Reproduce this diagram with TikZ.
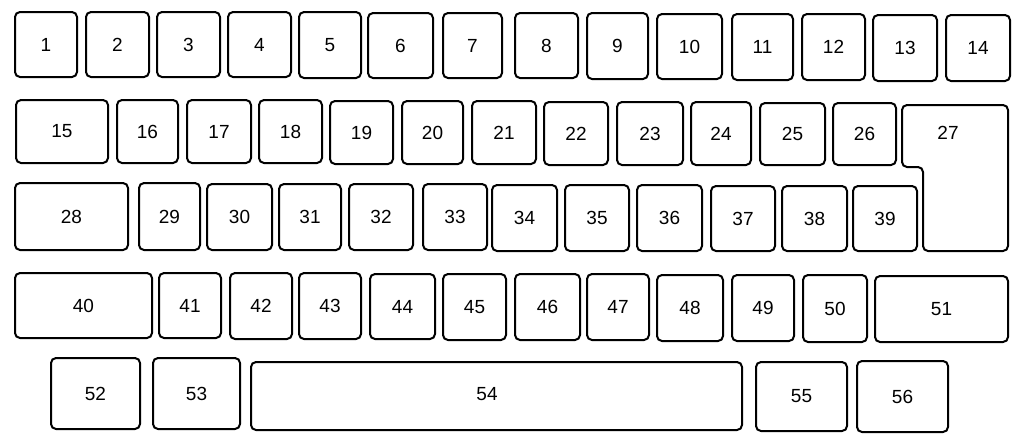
\documentclass[tikz,border=0pt]{standalone}
\usepackage{fontspec}
\setmainfont{Liberation Sans}
\tikzset{
  key/.style={draw=black, line width=2pt, rounded corners=5pt, inner sep=0pt, font=\fontsize{19}{19}\selectfont},
  keylabel/.style={inner sep=0pt, font=\fontsize{19}{19}\selectfont}
}
\newcommand\kb[5]{%
  \pgfmathsetmacro\kbw{#4-#2}\pgfmathsetmacro\kbh{#5-#3}%
  \node[key, minimum width=\kbw pt, minimum height=\kbh pt] (k#1) at ({(#2+#4)/2},{(#3+#5)/2}) {#1};}
\begin{document}
\begin{tikzpicture}[x=1pt,y=-1pt]
\useasboundingbox (0,0) rectangle (1024,445);
% row 1
\kb{1}{15}{12}{77}{77}
\kb{2}{86}{12}{149}{77}
\kb{3}{157}{12}{220}{77}
\kb{4}{228}{12}{291}{77}
\kb{5}{299}{12}{361}{78}
\kb{6}{368}{13}{433}{78}
\kb{7}{443}{13}{502}{78}
\kb{8}{515}{13}{578}{78}
\kb{9}{587}{13}{648}{79}
\kb{10}{657}{14}{722}{79}
\kb{11}{732}{14}{793}{80}
\kb{12}{802}{14}{865}{80}
\kb{13}{873}{15}{937}{81}
\kb{14}{946}{15}{1010}{81}
% row 2
\kb{15}{16}{100}{108}{163}
\kb{16}{117}{100}{178}{163}
\kb{17}{187}{100}{251}{163}
\kb{18}{259}{100}{322}{163}
\kb{19}{330}{101}{393}{164}
\kb{20}{402}{101}{463}{164}
\kb{21}{472}{101}{536}{164}
\kb{22}{544}{102}{608}{165}
\kb{23}{617}{102}{683}{165}
\kb{24}{691}{102}{751}{165}
\kb{25}{760}{103}{825}{165}
\kb{26}{833}{103}{896}{165}
% key 27 (L-shaped)
\draw[key] (902,105) -- (1008,105) -- (1008,251) -- (923,251) -- (923,167) -- (902,167) -- cycle;
\node[keylabel] (k27) at (948,133) {27};
% row 3
\kb{28}{15}{183}{128}{250}
\kb{29}{139}{183}{200}{250}
\kb{30}{207}{184}{272}{250}
\kb{31}{279}{184}{341}{250}
\kb{32}{349}{184}{413}{250}
\kb{33}{423}{184}{487}{250}
\kb{34}{492}{185}{557}{251}
\kb{35}{565}{185}{629}{251}
\kb{36}{637}{185}{702}{251}
\kb{37}{711}{186}{775}{251}
\kb{38}{782}{186}{847}{251}
\kb{39}{853}{186}{917}{251}
% row 4
\kb{40}{15}{273}{152}{338}
\kb{41}{159}{273}{221}{338}
\kb{42}{230}{273}{292}{339}
\kb{43}{299}{273}{361}{339}
\kb{44}{370}{274}{435}{339}
\kb{45}{443}{274}{506}{340}
\kb{46}{515}{274}{580}{340}
\kb{47}{587}{274}{649}{340}
\kb{48}{657}{275}{723}{341}
\kb{49}{732}{275}{794}{341}
\kb{50}{803}{275}{867}{342}
\kb{51}{875}{276}{1008}{342}
% row 5
\kb{52}{51}{358}{140}{429}
\kb{53}{153}{358}{240}{429}
\node[key, minimum width=491pt, minimum height=68pt] (k54) at (496.5,396) {};
\node[keylabel] (l54) at (487,394) {54};
\kb{55}{756}{362}{847}{431}
\kb{56}{857}{361}{948}{432}
\end{tikzpicture}
\end{document}
